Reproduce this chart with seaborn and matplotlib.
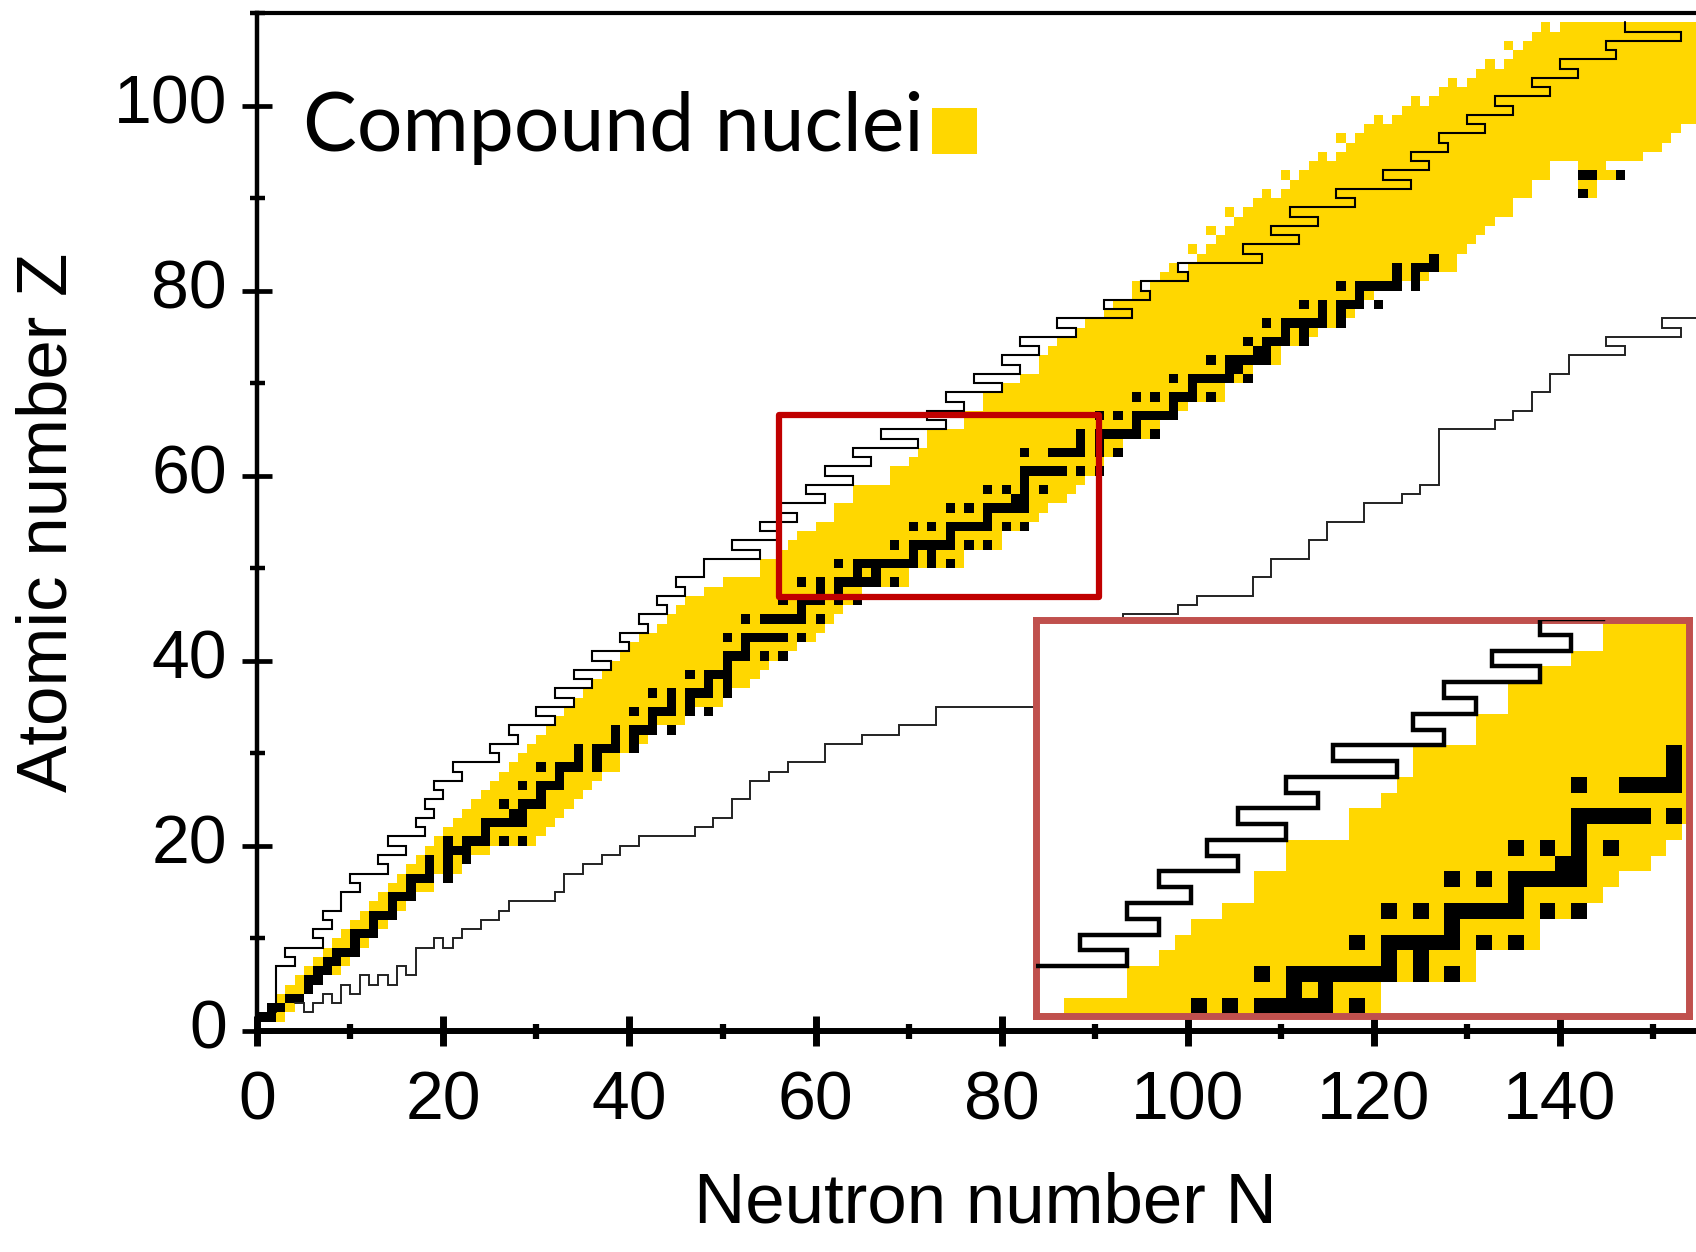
import numpy as np
import matplotlib
matplotlib.use("Agg")
import matplotlib.pyplot as plt
import seaborn as sns
from matplotlib.colors import ListedColormap
from matplotlib.patches import Rectangle

# ---------------- data ----------------
x_ticks = [0, 20, 40, 60, 80, 100, 120, 140]
y_ticks = [0, 20, 40, 60, 80, 100]
x_label = "Neutron number N"
y_label = "Atomic number Z"
legend_label = "Compound nuclei"

# compound-nuclei band: first / last yellow N in each Z row
band_Z = list(range(1, 109))
band_left = [0, 1, 2, 3, 4, 5, 6, 7, 8, 9,
             10, 11, 12, 13, 14, 15, 16, 17, 18, 19,
             20, 21, 22, 23, 24, 25, 26, 27, 28, 29,
             30, 31, 32, 33, 34, 35, 36, 37, 38, 39,
             40, 41, 43, 44, 45, 46, 48, 50, 54, 54,
             56, 57, 58, 60, 62, 62, 64, 64, 68, 68,
             70, 71, 72, 72, 76, 76, 78, 78, 80, 82,
             84, 84, 85, 86, 88, 89, 91, 92, 94, 96,
             97, 100, 101, 102, 103, 104, 105, 106, 107, 110,
             111, 112, 113, 116, 117, 118, 119, 122, 123, 126,
             127, 130, 131, 134, 135, 136, 137, 140]
band_right = [2, 3, 4, 5, 6, 8, 9, 10, 11, 12,
              13, 14, 15, 16, 18, 18, 21, 22, 24, 29,
              30, 31, 32, 33, 34, 35, 36, 38, 38, 40,
              41, 42, 45, 46, 49, 50, 52, 53, 54, 55,
              57, 59, 60, 61, 62, 64, 64, 69, 69, 75,
              75, 79, 79, 82, 83, 84, 86, 87, 88, 90,
              90, 92, 92, 96, 96, 98, 99, 103, 103, 106,
              106, 109, 109, 112, 113, 116, 117, 118, 119, 121,
              125, 128, 128, 129, 130, 131, 132, 134, 134, 136,
              136, 138, 138, 148, 150, 151, 152, 160, 160, 160,
              160, 160, 160, 160, 160, 160, 160, 160]
# isolated yellow cells on the proton-rich side
isolated_N = [94, 98, 100, 102, 104, 108, 110, 114, 116, 120, 124, 128, 132, 134, 138]
isolated_Z = [80, 82, 84, 86, 88, 90, 92, 94, 96, 98, 100, 102, 104, 106, 108]
# small yellow group around Th / U
stub_N = [142, 143, 142, 143, 142, 143, 144, 145, 146, 142, 143, 144]
stub_Z = [90, 90, 91, 91, 92, 92, 92, 92, 92, 93, 93, 93]

# stable (black) nuclei: Z -> neutron numbers
stable_N = {
    1: [0, 1], 2: [1, 2], 3: [3, 4], 4: [5], 5: [5, 6], 6: [6, 7], 7: [7, 8],
    8: [8, 9, 10], 9: [10], 10: [10, 11, 12], 11: [12], 12: [12, 13, 14],
    13: [14], 14: [14, 15, 16], 15: [16], 16: [16, 17, 18, 20], 17: [18, 20],
    18: [18, 20, 22], 19: [20, 21, 22], 20: [20, 22, 23, 24, 26, 28], 21: [24],
    22: [24, 25, 26, 27, 28], 23: [27, 28], 24: [26, 28, 29, 30], 25: [30],
    26: [28, 30, 31, 32], 27: [32], 28: [30, 32, 33, 34, 36], 29: [34, 36],
    30: [34, 36, 37, 38, 40], 31: [38, 40], 32: [38, 40, 41, 42, 44], 33: [42],
    34: [40, 42, 43, 44, 46, 48], 35: [44, 46], 36: [42, 44, 46, 47, 48, 50],
    37: [48, 50], 38: [46, 48, 49, 50], 39: [50], 40: [50, 51, 52, 54, 56],
    41: [52], 42: [50, 52, 53, 54, 55, 56, 58], 44: [52, 54, 55, 56, 57, 58, 60],
    45: [58], 46: [56, 58, 59, 60, 62, 64], 47: [60, 62],
    48: [58, 60, 62, 63, 64, 65, 66, 68], 49: [64, 66],
    50: [62, 64, 65, 66, 67, 68, 69, 70, 72, 74], 51: [70, 72],
    52: [68, 70, 71, 72, 73, 74, 76, 78], 53: [74],
    54: [70, 72, 74, 75, 76, 77, 78, 80, 82], 55: [78],
    56: [74, 76, 78, 79, 80, 81, 82], 57: [81, 82], 58: [78, 80, 82, 84],
    59: [82], 60: [82, 83, 84, 85, 86, 88, 90], 62: [82, 85, 86, 87, 88, 90, 92],
    63: [88, 90], 64: [88, 90, 91, 92, 93, 94, 96], 65: [94],
    66: [90, 92, 94, 95, 96, 97, 98], 67: [98], 68: [94, 96, 98, 99, 100, 102],
    69: [100], 70: [98, 100, 101, 102, 103, 104, 106], 71: [104, 105],
    72: [102, 104, 105, 106, 107, 108], 73: [107, 108], 74: [106, 108, 109, 110, 112],
    75: [110, 112], 76: [108, 110, 111, 112, 113, 114, 116], 77: [114, 116],
    78: [112, 114, 116, 117, 118, 120], 79: [118],
    80: [116, 118, 119, 120, 121, 122, 124], 81: [122, 124],
    82: [122, 124, 125, 126], 83: [126], 90: [142], 92: [142, 143, 146],
}

# proton-side boundary line: N position of the line in each Z row
upper_Z = list(range(2, 109))
upper_N = [2, 2, 2, 2, 2,
           4, 3, 7, 6, 8, 7, 9, 9, 11, 10, 14, 13, 16, 14, 18, 17, 19, 18, 20, 19,
           22, 21, 26, 25, 28, 27, 32, 30, 34, 32, 36, 34, 38, 36, 40, 39, 42, 41, 44, 43,
           46, 45, 48, 48, 54, 51, 56, 54, 58, 56, 61, 59, 64, 61, 66, 64, 71, 67, 74, 72,
           76, 74, 80, 77, 82, 80, 84, 82, 88, 86, 94, 91, 96, 95, 100, 99, 108, 106, 112, 109,
           114, 111, 118, 116, 124, 121, 126, 124, 128, 127, 132, 130, 135, 133, 139, 137,
           142, 140, 146, 145, 153, 147]

# neutron-side boundary line (vertices)
lower_N = [4, 5, 5, 6, 6, 7, 7, 8, 8, 9, 9, 10, 10, 11, 11, 12, 12, 13, 13, 14, 14, 15, 15,
           16, 16, 17, 17, 19, 19, 20, 20, 21, 21, 22, 22, 24, 24, 26, 26, 27, 27, 32, 32,
           33, 33, 35, 35, 37, 37, 39, 39, 41, 41, 47, 47, 49, 49, 51, 51, 53, 53, 55, 55,
           57, 57, 61, 61, 65, 65, 69, 69, 73, 73, 85, 85, 87, 87, 89, 89, 91, 91, 93, 93,
           99, 99, 101, 101, 107, 107, 109, 109, 113, 113, 115, 115, 119, 119, 123, 123,
           125, 125, 127, 127, 133, 133, 135, 135, 137, 137, 139, 139, 141, 141, 147, 147,
           145, 145, 153, 153, 151, 151, 156]
lower_Z = [3, 3, 2, 2, 3, 3, 4, 4, 3, 3, 5, 5, 4, 4, 6, 6, 5, 5, 6, 6, 5, 5, 7,
           7, 6, 6, 9, 9, 10, 10, 9, 9, 10, 10, 11, 11, 12, 12, 13, 13, 14, 14, 15,
           15, 17, 17, 18, 18, 19, 19, 20, 20, 21, 21, 22, 22, 23, 23, 25, 25, 27, 27, 28,
           28, 29, 29, 31, 31, 32, 32, 33, 33, 35, 35, 37, 37, 39, 39, 41, 41, 43, 43, 45,
           45, 46, 46, 47, 47, 49, 49, 51, 51, 53, 53, 55, 55, 57, 57, 58,
           58, 59, 59, 65, 65, 66, 66, 67, 67, 69, 69, 71, 71, 73, 73, 74,
           74, 75, 75, 76, 76, 77, 77]

# ---------------- styling ----------------
YELLOW = "#FFD700"
sns.set_style("ticks")
plt.rcParams["font.family"] = ["Liberation Sans", "DejaVu Sans"]
plt.rcParams.update({"text.color": "black", "axes.labelcolor": "black",
                     "xtick.color": "black", "ytick.color": "black",
                     "axes.edgecolor": "black"})

# cell grid: 0 empty, 1 compound nucleus, 2 stable
NCOLS, NROWS = 160, 112
grid = np.zeros((NROWS, NCOLS))
for z, l, r in zip(band_Z, band_left, band_right):
    grid[z, l:min(r, NCOLS - 1) + 1] = 1
for n, z in zip(isolated_N + stub_N, isolated_Z + stub_Z):
    grid[z, n] = 1
for z, ns in stable_N.items():
    for n in ns:
        grid[z, n] = 2
cells = np.ma.masked_equal(grid, 0)
cmap = ListedColormap([YELLOW, "#000000"])

up_x = np.repeat(upper_N, 2)
up_y = np.ravel(np.column_stack([upper_Z, np.array(upper_Z) + 1]))


def draw_chart(ax, lw_up, lw_low):
    ax.pcolormesh(np.arange(NCOLS + 1), np.arange(NROWS + 1), cells, cmap=cmap,
                  vmin=0.5, vmax=2.5, shading="flat", antialiased=False,
                  edgecolors="none", zorder=1)
    sns.lineplot(x=up_x, y=up_y, sort=False, estimator=None, color="black",
                 lw=lw_up, ax=ax, zorder=3, solid_joinstyle="miter")
    if lw_low:
        sns.lineplot(x=lower_N, y=lower_Z, sort=False, estimator=None, color="#222222",
                     lw=lw_low, ax=ax, zorder=3, solid_joinstyle="miter")


fig = plt.figure(figsize=(16.96, 12.52), dpi=100, facecolor="white")
ax = fig.add_axes([257.4 / 1696, 221.2 / 1252, (1696 - 257.4) / 1696, (1030.8 - 13) / 1252])
draw_chart(ax, 1.5, 1.4)
ax.set_xlim(0, 154.65)
ax.set_ylim(0, 109.03)
ax.set_xticks(x_ticks)
ax.set_yticks(y_ticks)
ax.set_xticks([t + 10 for t in x_ticks], minor=True)
ax.set_yticks([t + 10 for t in y_ticks], minor=True)
ax.tick_params(axis="x", which="major", direction="inout", length=21.6, width=5,
               pad=17, labelsize=49)
ax.tick_params(axis="x", which="minor", direction="inout", length=10.8, width=4.5)
ax.tick_params(axis="y", which="major", direction="inout", length=21.6, width=3.4,
               pad=11, labelsize=49)
ax.tick_params(axis="y", which="minor", direction="inout", length=10.8, width=3.2)
for lab in ax.get_yticklabels():
    lab.set_va("center")
ax.spines["right"].set_visible(False)
ax.spines["left"].set_linewidth(3.2)
ax.spines["bottom"].set_linewidth(4.3)
ax.spines["top"].set_linewidth(3.0)
ax.set_xlabel(x_label, fontsize=51)
ax.set_ylabel(y_label, fontsize=51)
ax.xaxis.set_label_coords(0.506, -0.138)
ax.yaxis.set_label_coords(-0.122, 0.5)

# legend-like label with swatch
ax.text(0.0317, 0.8644, legend_label, transform=ax.transAxes, fontsize=58,
        family=["Lato", "DejaVu Sans"], ha="left", va="baseline")
ax.add_patch(Rectangle((0.469, 0.8615), 0.031, 0.0452, transform=ax.transAxes,
                       facecolor=YELLOW, edgecolor="none", zorder=6))

# zoom box on the main chart
ax.add_patch(Rectangle((56.05, 46.93), 34.41, 19.58, fill=False, edgecolor="#C00000",
                       lw=4.5, joinstyle="round", zorder=5))

# inset
axi = fig.add_axes([0.6111, 0.1881, 0.3850, 0.3167])
axi.set_facecolor("white")
draw_chart(axi, 3.2, 0)
axi.set_xlim(48.27, 89.45)
axi.set_ylim(47.8, 72.95)
axi.set_xticks([])
axi.set_yticks([])
axi.set_xlabel("")
axi.set_ylabel("")
for s in axi.spines.values():
    s.set_visible(True)
    s.set_edgecolor("#C0504D")
    s.set_linewidth(5)

fig.savefig("out.png", dpi=100, facecolor="white")
